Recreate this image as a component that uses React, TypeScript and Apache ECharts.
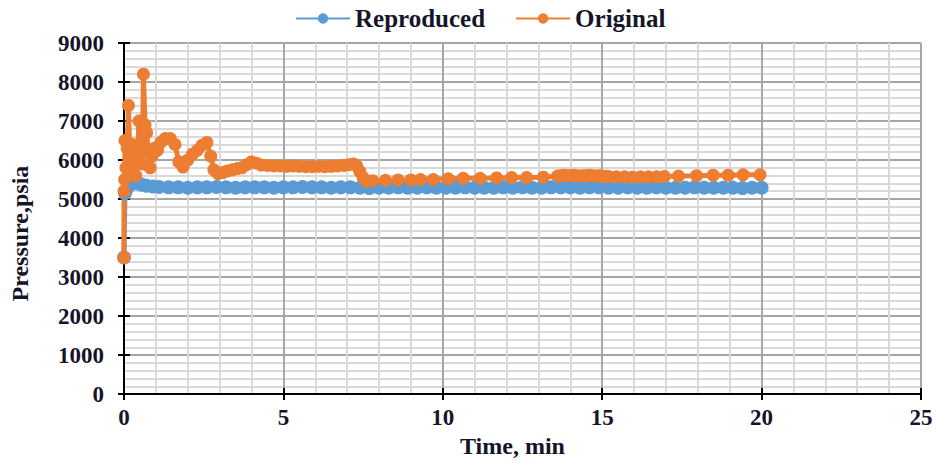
import React, { useEffect, useRef } from "react";
import * as echarts from "echarts";

// Simulated bottom-hole pressure over time: reproduced run vs. original field data
const reproducedTime = [
  0, 0.03, 0.08, 0.15, 0.25, 0.35, 0.45, 0.55, 0.7, 0.9,
  1.1, 1.4, 1.7, 2.0, 2.3, 2.6, 2.9, 3.2, 3.5, 3.8,
  4.1, 4.4, 4.7, 5.0, 5.3, 5.6, 5.9, 6.2, 6.5, 6.8,
  7.1, 7.4, 7.7, 8.0, 8.3, 8.6, 8.9, 9.2, 9.5, 9.8,
  10.1, 10.4, 10.7, 11.0, 11.3, 11.6, 11.9, 12.2, 12.5, 12.8,
  13.1, 13.4, 13.7, 14.0, 14.3, 14.6, 14.9, 15.2, 15.5, 15.8,
  16.1, 16.4, 16.7, 17.0, 17.3, 17.6, 17.9, 18.2, 18.5, 18.8,
  19.1, 19.4, 19.7, 20.0,
];
const reproducedPressure = [
  3500, 5150, 5250, 5350, 5400, 5420, 5400, 5370, 5340, 5320,
  5310, 5300, 5300, 5290, 5300, 5300, 5310, 5300, 5290, 5300,
  5300, 5300, 5290, 5300, 5300, 5310, 5300, 5300, 5290, 5300,
  5300, 5290, 5280, 5290, 5290, 5300, 5290, 5290, 5300, 5290,
  5290, 5290, 5300, 5290, 5290, 5290, 5300, 5290, 5300, 5290,
  5290, 5300, 5300, 5300, 5290, 5300, 5300, 5290, 5290, 5300,
  5290, 5290, 5300, 5290, 5290, 5290, 5300, 5290, 5290, 5290,
  5290, 5280, 5290, 5290,
];

const originalTime = [
  0, 0, 0.02, 0.03, 0.06, 0.1, 0.14, 0.18, 0.22, 0.27,
  0.32, 0.37, 0.42, 0.47, 0.52, 0.57, 0.61, 0.66, 0.71, 0.76,
  0.82, 0.88, 0.95, 1.05, 1.15, 1.29, 1.45, 1.6, 1.72, 1.85,
  2.0, 2.15, 2.3, 2.45, 2.6, 2.72, 2.82, 2.95, 3.1, 3.25,
  3.4, 3.55, 3.7, 3.85, 4.0, 4.15, 4.3, 4.5, 4.7, 4.9,
  5.1, 5.3, 5.5, 5.7, 5.9, 6.1, 6.3, 6.5, 6.7, 6.9,
  7.05, 7.2, 7.3, 7.4, 7.5, 7.6, 7.8, 8.2, 8.6, 9.0,
  9.3, 9.7, 10.17, 10.64, 11.17, 11.69, 12.16, 12.63, 13.15, 13.6,
  13.7, 13.8, 13.9, 14.0, 14.1, 14.2, 14.3, 14.4, 14.5, 14.6,
  14.7, 14.8, 14.9, 15.0, 15.1, 15.2, 15.45, 15.7, 15.95, 16.2,
  16.45, 16.7, 16.95, 17.39, 17.96, 18.48, 18.95, 19.42, 19.95,
];
const originalPressure = [
  3500, 5200, 5500, 6500, 5800, 6300, 7400, 6200, 5700, 6400,
  6000, 5600, 6100, 7000, 6300, 5900, 8200, 6900, 6700, 6200,
  5800, 6100, 6300, 6250, 6450, 6550, 6550, 6400, 5950, 5820,
  6000, 6150, 6250, 6380, 6450, 6100, 5750, 5650, 5680, 5720,
  5750, 5780, 5800, 5880, 5950, 5920, 5870, 5860, 5850, 5850,
  5840, 5850, 5840, 5830, 5830, 5840, 5830, 5840, 5850, 5860,
  5880, 5900, 5850, 5700, 5550, 5460, 5470, 5480, 5490, 5490,
  5500, 5500, 5520, 5530, 5530, 5540, 5550, 5550, 5560, 5590,
  5600, 5610, 5600, 5600, 5610, 5600, 5590, 5600, 5600, 5610,
  5600, 5590, 5600, 5590, 5580, 5580, 5570, 5570, 5560, 5570,
  5570, 5570, 5580, 5590, 5600, 5610, 5610, 5620, 5620,
];

const seriesNames = ["Reproduced", "Original"];
const seriesColors = ["#5b9bd5", "#ed7d31"];

const zip = (xs: number[], ys: number[]) => xs.map((x, i) => [x, ys[i]]);

const FONT = "'Liberation Serif', 'Times New Roman', serif";
const TEXT_COLOR = "#15152a";

export default function App() {
  const ref = useRef<HTMLDivElement>(null);

  useEffect(() => {
    if (!ref.current) return;
    const chart = echarts.init(ref.current, undefined, { renderer: "svg" });

    const baseAxisStyle = {
      axisLine: { show: true, onZero: false, lineStyle: { color: "#000", width: 2 } },
      axisTick: { show: true, length: 6, lineStyle: { color: "#000", width: 2 } },
    };
    // A second, label-less axis puts the inner half of each crossing tick mark
    const innerTickAxis = {
      axisLine: { show: false },
      axisTick: { show: true, inside: true, length: 6, lineStyle: { color: "#000", width: 2 } },
      axisLabel: { show: false },
      splitLine: { show: false },
    };

    chart.setOption({
      animation: false,
      textStyle: { fontFamily: FONT },
      legend: {
        data: seriesNames,
        left: 290,
        top: 1,
        itemWidth: 54,
        itemHeight: 13,
        itemGap: 30,
        textStyle: { fontFamily: FONT, fontSize: 25, fontWeight: "bold", color: TEXT_COLOR },
      },
      grid: { left: 124, right: 15, top: 43, bottom: 65 },
      xAxis: [
        {
          type: "value",
          min: 0,
          max: 25,
          interval: 5,
          ...baseAxisStyle,
          axisLabel: { fontFamily: FONT, fontSize: 23, fontWeight: "bold", color: TEXT_COLOR, margin: 12 },
          splitLine: { show: true, lineStyle: { color: "#a6a6a6", width: 2 } },
          minorTick: { show: false, splitNumber: 5 },
          minorSplitLine: { show: true, lineStyle: { color: "#d9d9d9", width: 2 } },
          name: "Time, min",
          nameLocation: "middle",
          nameGap: 36,
          nameTextStyle: {
            fontFamily: FONT,
            fontSize: 24,
            fontWeight: "bold",
            color: TEXT_COLOR,
            padding: [0, 20, 0, 0],
          },
        },
        { type: "value", min: 0, max: 25, interval: 5, position: "bottom", ...innerTickAxis },
      ],
      yAxis: [
        {
          type: "value",
          min: 0,
          max: 9000,
          interval: 1000,
          ...baseAxisStyle,
          axisLabel: {
            fontFamily: FONT,
            fontSize: 23,
            fontWeight: "bold",
            color: TEXT_COLOR,
            margin: 20,
            formatter: (v: number) => String(v),
          },
          splitLine: { show: true, lineStyle: { color: "#a6a6a6", width: 2 } },
          minorTick: { show: false, splitNumber: 5 },
          minorSplitLine: { show: true, lineStyle: { color: "#d9d9d9", width: 2 } },
          name: "Pressure,psia",
          nameLocation: "middle",
          nameGap: 92,
          nameTextStyle: {
            fontFamily: FONT,
            fontSize: 24,
            fontWeight: "bold",
            color: TEXT_COLOR,
            padding: [0, 30, 0, 0],
          },
        },
        { type: "value", min: 0, max: 9000, interval: 1000, position: "left", ...innerTickAxis },
      ],
      series: [
        {
          name: seriesNames[0],
          type: "line",
          xAxisIndex: 0,
          yAxisIndex: 0,
          data: zip(reproducedTime, reproducedPressure),
          symbol: "circle",
          symbolSize: 14,
          color: seriesColors[0],
          lineStyle: { width: 5, color: seriesColors[0] },
          itemStyle: { color: seriesColors[0] },
        },
        {
          name: seriesNames[1],
          type: "line",
          xAxisIndex: 0,
          yAxisIndex: 0,
          data: zip(originalTime, originalPressure),
          symbol: "circle",
          symbolSize: 13,
          color: seriesColors[1],
          lineStyle: { width: 5, color: seriesColors[1] },
          itemStyle: { color: seriesColors[1] },
        },
      ],
    });

    return () => chart.dispose();
  }, []);

  return (
    <div
      ref={ref}
      style={{ position: "fixed", left: 0, top: 0, width: 936, height: 463, background: "#fff" }}
    />
  );
}
